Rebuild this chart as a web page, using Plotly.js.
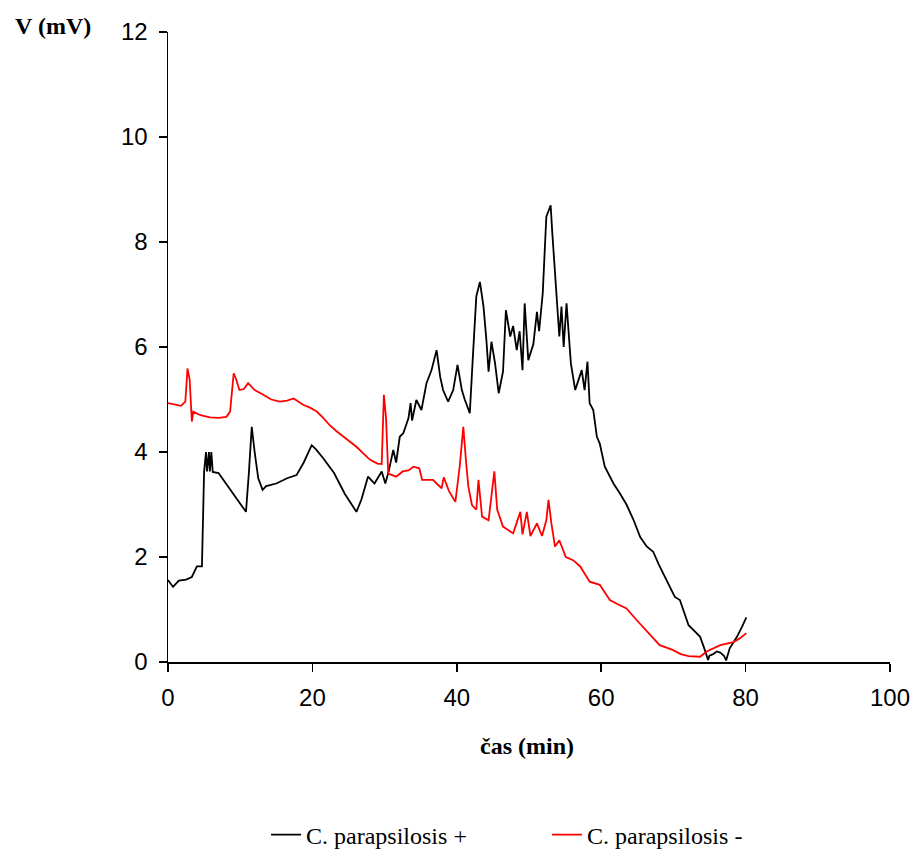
<!DOCTYPE html>
<html>
<head>
<meta charset="utf-8">
<script src="https://cdn.plot.ly/plotly-3.0.1.min.js"></script>
<style>html,body{margin:0;padding:0;background:#fff;}#chart{width:917px;height:850px;}</style>
</head>
<body>
<div id="chart"></div>
<script>
const seriesNames = ["C. parapsilosis +", "C. parapsilosis -"];

const timePlus = [0, 0.7, 1.5, 2.5, 3.3, 4.0, 4.7, 5.0, 5.26, 5.4, 5.67, 5.8, 6.0, 6.2, 7.0, 8.0, 9.0, 10.0, 10.8, 11.2, 11.6, 12.0, 12.5, 13.1, 13.6, 15, 16.5, 17.8, 18.8, 19.9, 20.5, 21.5, 23, 24.5, 26.1, 26.8, 27.7, 28.6, 29.6, 30.1, 30.6, 31.2, 31.6, 32.1, 32.6, 33.3, 33.6, 33.8, 34.4, 35.1, 35.8, 36.5, 37.2, 37.7, 38.1, 38.8, 39.5, 40.1, 40.7, 41.1, 41.8, 42.2, 42.7, 43.2, 43.7, 44.1, 44.4, 44.8, 45.3, 45.8, 46.4, 46.8, 47.4, 47.8, 48.3, 48.7, 49.1, 49.4, 49.9, 50.6, 51.1, 51.4, 51.9, 52.4, 52.7, 53.0, 53.2, 53.8, 54.2, 54.5, 54.8, 55.2, 55.8, 56.4, 56.8, 57.3, 57.7, 58.1, 58.4, 58.9, 59.4, 59.8, 60.5, 61.7, 62.6, 63.5, 64.5, 65.4, 66.3, 67.2, 68.0, 68.6, 69.4, 70.2, 70.9, 71.5, 72.1, 73.0, 73.7, 74.3, 74.8, 75.0, 75.5, 76.0, 76.5, 77.0, 77.3, 77.8, 78.8, 79.5, 80.1];
const voltPlus = [1.56, 1.43, 1.55, 1.57, 1.62, 1.82, 1.82, 3.63, 4.0, 3.63, 4.0, 3.63, 4.0, 3.62, 3.6, 3.4, 3.2, 3.0, 2.86, 3.6, 4.48, 4.0, 3.5, 3.28, 3.35, 3.4, 3.5, 3.56, 3.8, 4.13, 4.05, 3.88, 3.6, 3.2, 2.86, 3.1, 3.53, 3.4, 3.63, 3.4, 3.65, 4.04, 3.8, 4.29, 4.36, 4.64, 4.93, 4.6, 4.99, 4.8, 5.31, 5.56, 5.94, 5.43, 5.18, 4.96, 5.18, 5.66, 5.18, 5.0, 4.74, 5.75, 6.96, 7.24, 6.77, 6.13, 5.53, 6.1, 5.69, 5.12, 5.53, 6.7, 6.2, 6.4, 5.94, 6.3, 5.56, 6.83, 5.75, 6.05, 6.67, 6.3, 7.02, 8.48, 8.6, 8.7, 8.23, 6.9, 6.2, 6.77, 6.0, 6.83, 5.69, 5.18, 5.37, 5.56, 5.18, 5.72, 4.93, 4.8, 4.29, 4.16, 3.72, 3.40, 3.21, 3.0, 2.7, 2.38, 2.2, 2.10, 1.85, 1.69, 1.45, 1.24, 1.18, 0.95, 0.70, 0.58, 0.48, 0.25, 0.04, 0.12, 0.15, 0.2, 0.18, 0.12, 0.03, 0.26, 0.48, 0.67, 0.85];

const timeMinus = [0, 0.9, 1.8, 2.4, 2.7, 3.0, 3.3, 3.5, 4.5, 5.8, 7, 8.1, 8.6, 9.1, 9.4, 9.9, 10.5, 11.1, 12.0, 13.2, 14.3, 15.5, 16.5, 17.4, 18.7, 19.6, 20.6, 21.5, 22.4, 23.3, 24.3, 25.2, 26.1, 27.0, 28.0, 29.0, 29.6, 29.9, 30.2, 30.5, 31.6, 32.5, 33.3, 34.0, 34.8, 35.2, 36.7, 37.9, 38.2, 38.9, 39.8, 40.4, 40.9, 41.3, 41.6, 42.1, 42.7, 43.0, 43.5, 44.4, 45.2, 45.6, 46.4, 47.8, 48.8, 49.1, 49.7, 50.2, 51.1, 51.8, 52.4, 52.7, 53.1, 53.6, 54.2, 55.1, 56.1, 57.1, 58.4, 59.8, 61.2, 62.3, 63.5, 64.9, 66.5, 68.1, 69.9, 71.0, 72.1, 73.7, 74.6, 75.5, 76.5, 78.3, 79.2, 80.1];
const voltMinus = [4.93, 4.9, 4.88, 4.96, 5.59, 5.38, 4.58, 4.77, 4.7, 4.66, 4.65, 4.67, 4.77, 5.5, 5.4, 5.18, 5.2, 5.31, 5.18, 5.09, 5.0, 4.96, 4.98, 5.02, 4.9, 4.85, 4.77, 4.65, 4.51, 4.4, 4.29, 4.2, 4.1, 3.98, 3.85, 3.78, 3.77, 5.09, 4.64, 3.59, 3.53, 3.63, 3.65, 3.72, 3.69, 3.47, 3.47, 3.31, 3.52, 3.26, 3.05, 3.72, 4.48, 3.78, 3.34, 2.99, 2.9, 3.47, 2.77, 2.7, 3.63, 2.9, 2.58, 2.45, 2.86, 2.43, 2.86, 2.4, 2.64, 2.4, 2.7, 3.09, 2.64, 2.2, 2.32, 2.0, 1.94, 1.82, 1.53, 1.47, 1.18, 1.1, 1.02, 0.8, 0.55, 0.32, 0.23, 0.15, 0.11, 0.1, 0.2, 0.25, 0.32, 0.38, 0.45, 0.55];

const xTicks = [0, 20, 40, 60, 80, 100];
const yTicks = [0, 2, 4, 6, 8, 10, 12];
const xTitle = "čas (min)";
const yTitle = "V (mV)";

const traces = [
  {x: timePlus, y: voltPlus, name: seriesNames[0], mode: "lines", type: "scatter",
   line: {color: "#000000", width: 1.8}},
  {x: timeMinus, y: voltMinus, name: seriesNames[1], mode: "lines", type: "scatter",
   line: {color: "#ff0000", width: 1.8}}
];

const tickFont = {family: "Liberation Sans, Arial, sans-serif", size: 24, color: "#000"};
const titleFont = {family: "Liberation Serif, Times New Roman, serif", size: 24, color: "#000", weight: "bold"};

const layout = {
  width: 917, height: 850,
  margin: {l: 168, r: 27, t: 32, b: 188, autoexpand: false},
  paper_bgcolor: "#fff", plot_bgcolor: "#fff",
  showlegend: true,
  xaxis: {
    range: [0, 100], tickvals: xTicks, ticktext: xTicks.map(String),
    showgrid: false, zeroline: false, showline: true, linecolor: "#000", linewidth: 1.5,
    ticks: "outside", ticklen: 8, tickwidth: 1.5, tickcolor: "#000",
    tickfont: tickFont, ticklabelstandoff: 6, fixedrange: true, automargin: false
  },
  yaxis: {
    range: [0, 12], tickvals: yTicks, ticktext: yTicks.map(String),
    showgrid: false, zeroline: false, showline: true, linecolor: "#000", linewidth: 1.5,
    ticks: "outside", ticklen: 8, tickwidth: 1.5, tickcolor: "#000",
    tickfont: tickFont, ticklabelstandoff: 6, fixedrange: true, automargin: false
  },
  legend: {
    orientation: "h", x: 0.525, xanchor: "center", y: -0.2746, yanchor: "middle",
    font: {family: "Liberation Serif, Times New Roman, serif", size: 24, color: "#000"},
    entrywidth: 236, bgcolor: "rgba(0,0,0,0)"
  },
  annotations: [
    {text: yTitle, xref: "paper", yref: "paper", x: (53 - 168) / 722, y: (662 - 26) / 630,
     xanchor: "center", yanchor: "middle", showarrow: false, font: titleFont},
    {text: xTitle, xref: "paper", yref: "paper", x: (527 - 168) / 722, y: (662 - 746) / 630,
     xanchor: "center", yanchor: "middle", showarrow: false, font: titleFont}
  ]
};

Plotly.newPlot("chart", traces, layout, {staticPlot: true, displayModeBar: false});
</script>
</body>
</html>
